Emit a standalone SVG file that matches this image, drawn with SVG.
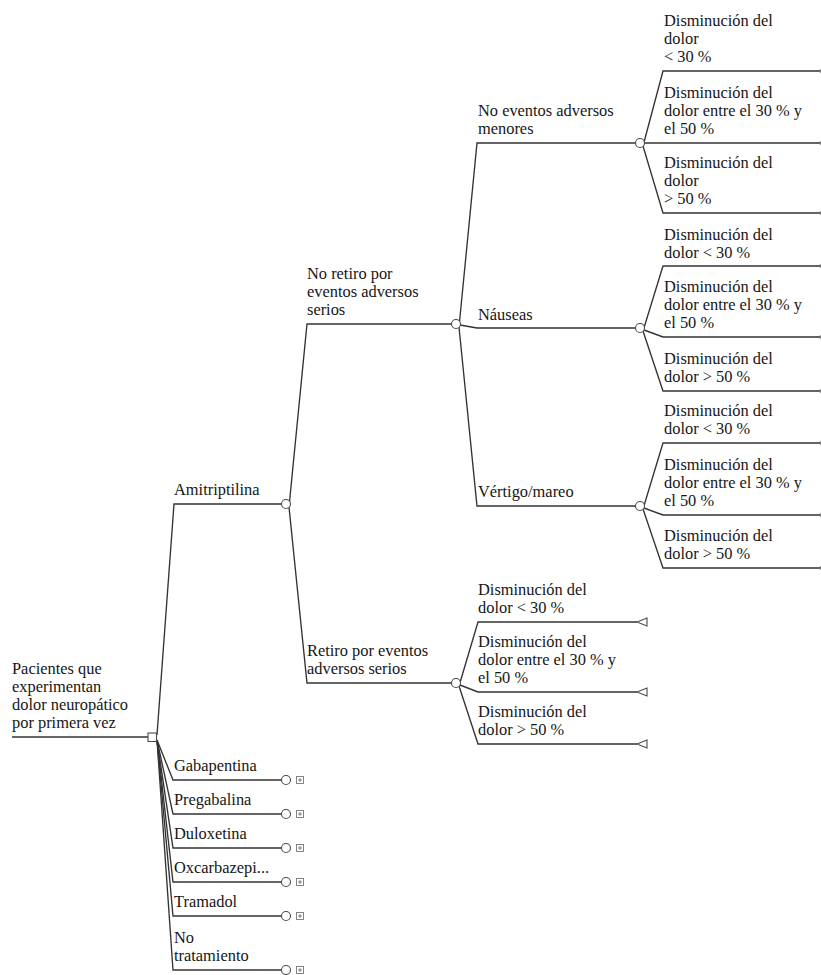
<svg xmlns="http://www.w3.org/2000/svg" width="821" height="975" viewBox="0 0 821 975">
<style>
text{font-family:"Liberation Serif","Times New Roman",serif;font-size:16.4px;fill:#161616}
.c{fill:none;stroke:#333;stroke-width:1.35}
.ch{fill:#fff;stroke:#4a4a4a;stroke-width:1.1}
.tr{fill:#fff;stroke:#4a4a4a;stroke-width:1.1}
.pb{fill:#fff;stroke:#777;stroke-width:0.9}
</style>
<defs>
<g id="plus"><rect class="pb" x="-3.5" y="-3.5" width="7" height="7"/><path d="M-2,0H2M0,-2V2" stroke="#666" stroke-width="0.8"/></g>
<path id="tri" class="tr" d="M0,0 L10,-4 L10,4 Z"/>
</defs>
<g id="connectors">
<path class="c" d="M12,737 H148"/>
<path class="c" d="M157,735 L174,504 H281.5"/>
<path class="c" d="M157,740 L173,780 H281.5"/>
<path class="c" d="M157,740 L173,814 H281.5"/>
<path class="c" d="M157,740 L173,848 H281.5"/>
<path class="c" d="M157,740 L173,882 H281.5"/>
<path class="c" d="M157,740 L173,916 H281.5"/>
<path class="c" d="M157,740 L173,970 H281.5"/>
<path class="c" d="M289,507 L307,324 H451.5"/>
<path class="c" d="M289,507 L307,683 H451.5"/>
<path class="c" d="M459,327 L477,143 H635.5"/>
<path class="c" d="M460,325 L477,328 H635.5"/>
<path class="c" d="M459,327 L477,506 H635.5"/>
<path class="c" d="M459,686 L478,622 H637"/>
<path class="c" d="M460,685 L478,692 H637"/>
<path class="c" d="M459,686 L478,744 H637"/>
<path class="c" d="M643,146 L663,71 H818"/>
<path class="c" d="M644.5,143 H818"/>
<path class="c" d="M643,146 L663,213 H818"/>
<path class="c" d="M643,331 L663,266 H818"/>
<path class="c" d="M644,330 L663,337 H818"/>
<path class="c" d="M643,331 L663,391 H818"/>
<path class="c" d="M643,509 L663,443 H818"/>
<path class="c" d="M644,508 L663,515 H818"/>
<path class="c" d="M643,509 L663,568 H818"/>
</g>
<g id="root">
<text x="12" y="674">Pacientes que</text>
<text x="12" y="692">experimentan</text>
<text x="12" y="710">dolor neuropático</text>
<text x="12" y="728">por primera vez</text>
<rect x="148" y="733" width="8.5" height="8.5" fill="#fff" stroke="#4a4a4a" stroke-width="1.1"/>
</g>
<g id="amitriptilina">
<text x="174" y="495">Amitriptilina</text>
<circle class="ch" cx="286" cy="504" r="4.5"/>
</g>
<g id="gabapentina"><text x="174" y="771">Gabapentina</text><circle class="ch" cx="286" cy="780" r="4.5"/><use href="#plus" x="300" y="780"/></g>
<g id="pregabalina"><text x="174" y="805">Pregabalina</text><circle class="ch" cx="286" cy="814" r="4.5"/><use href="#plus" x="300" y="814"/></g>
<g id="duloxetina"><text x="174" y="839">Duloxetina</text><circle class="ch" cx="286" cy="848" r="4.5"/><use href="#plus" x="300" y="848"/></g>
<g id="oxcarbazepina"><text x="174" y="873">Oxcarbazepi...</text><circle class="ch" cx="286" cy="882" r="4.5"/><use href="#plus" x="300" y="882"/></g>
<g id="tramadol"><text x="174" y="907">Tramadol</text><circle class="ch" cx="286" cy="916" r="4.5"/><use href="#plus" x="300" y="916"/></g>
<g id="no-tratamiento"><text x="174" y="943">No</text><text x="174" y="961">tratamiento</text><circle class="ch" cx="286" cy="970" r="4.5"/><use href="#plus" x="300" y="970"/></g>
<g id="no-retiro">
<text x="307" y="279">No retiro por</text>
<text x="307" y="297">eventos adversos</text>
<text x="307" y="315">serios</text>
<circle class="ch" cx="456" cy="324" r="4.5"/>
</g>
<g id="retiro">
<text x="307" y="656">Retiro por eventos</text>
<text x="307" y="674">adversos serios</text>
<circle class="ch" cx="456" cy="683" r="4.5"/>
</g>
<g id="no-eventos">
<text x="478" y="116">No eventos adversos</text>
<text x="478" y="134">menores</text>
<circle class="ch" cx="640" cy="143" r="4.5"/>
</g>
<g id="nauseas">
<text x="478" y="320">Náuseas</text>
<circle class="ch" cx="640" cy="328" r="4.5"/>
</g>
<g id="vertigo">
<text x="478" y="497">Vértigo/mareo</text>
<circle class="ch" cx="640" cy="506" r="4.5"/>
</g>
<g id="r1"><text x="478" y="595">Disminución del</text><text x="478" y="613">dolor &lt; 30 %</text><use href="#tri" x="637" y="622"/></g>
<g id="r2"><text x="478" y="647">Disminución del</text><text x="478" y="665">dolor entre el 30 % y</text><text x="478" y="683">el 50 %</text><use href="#tri" x="637" y="692"/></g>
<g id="r3"><text x="478" y="717">Disminución del</text><text x="478" y="735">dolor &gt; 50 %</text><use href="#tri" x="637" y="744"/></g>
<g id="a1"><text x="664" y="26">Disminución del</text><text x="664" y="44">dolor</text><text x="664" y="62">&lt; 30 %</text><use href="#tri" x="818" y="71"/></g>
<g id="a2"><text x="664" y="98">Disminución del</text><text x="664" y="116">dolor entre el 30 % y</text><text x="664" y="134">el 50 %</text><use href="#tri" x="818" y="143"/></g>
<g id="a3"><text x="664" y="168">Disminución del</text><text x="664" y="186">dolor</text><text x="664" y="204">&gt; 50 %</text><use href="#tri" x="818" y="213"/></g>
<g id="b1"><text x="664" y="240">Disminución del</text><text x="664" y="258">dolor &lt; 30 %</text><use href="#tri" x="818" y="266"/></g>
<g id="b2"><text x="664" y="292">Disminución del</text><text x="664" y="310">dolor entre el 30 % y</text><text x="664" y="328">el 50 %</text><use href="#tri" x="818" y="337"/></g>
<g id="b3"><text x="664" y="364">Disminución del</text><text x="664" y="382">dolor &gt; 50 %</text><use href="#tri" x="818" y="391"/></g>
<g id="c1"><text x="664" y="416">Disminución del</text><text x="664" y="434">dolor &lt; 30 %</text><use href="#tri" x="818" y="443"/></g>
<g id="c2"><text x="664" y="470">Disminución del</text><text x="664" y="488">dolor entre el 30 % y</text><text x="664" y="506">el 50 %</text><use href="#tri" x="818" y="515"/></g>
<g id="c3"><text x="664" y="541">Disminución del</text><text x="664" y="559">dolor &gt; 50 %</text><use href="#tri" x="818" y="568"/></g>
</svg>
